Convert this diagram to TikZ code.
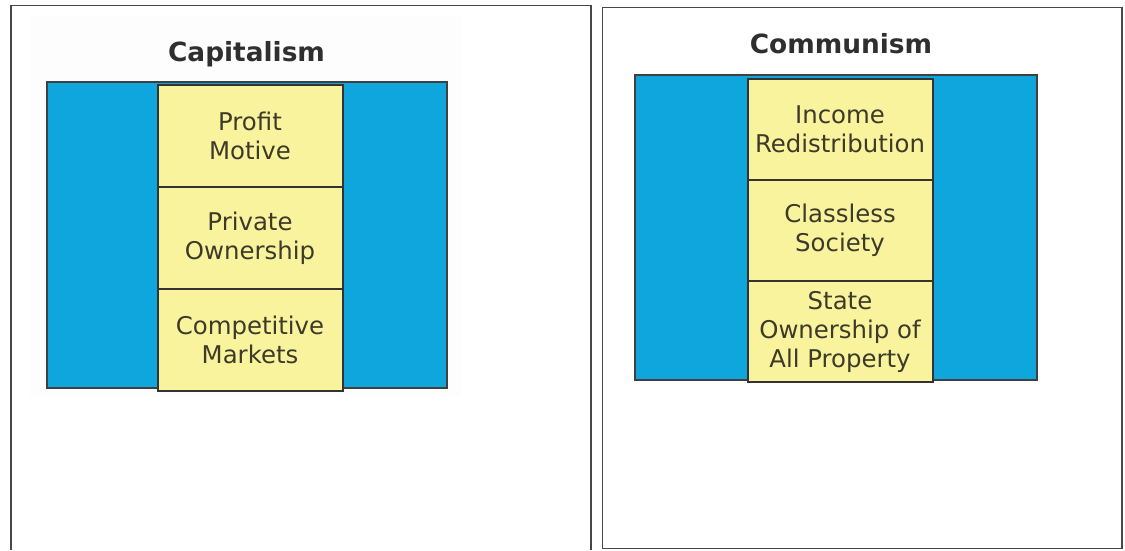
\documentclass[tikz,border=0pt]{standalone}
\usepackage{fontspec}
\setmainfont{DejaVu Sans}
\definecolor{panelblue}{HTML}{0EA6DC}
\definecolor{cellyellow}{HTML}{FAF39D}
\definecolor{celltext}{HTML}{3C3A28}
\definecolor{titlegray}{HTML}{2F2F2F}
\definecolor{framegray}{HTML}{474747}
\usetikzlibrary{positioning}
\tikzset{
    panel/.style={
           rectangle,
           fill=panelblue,
           draw=black!75, line width=2pt,
           inner sep=0pt, outer sep=0pt,
           },
    cell/.style={
           rectangle,
           fill=cellyellow,
           draw=black!80, line width=2pt,
           minimum width=185pt,
           inner sep=0pt, outer sep=0pt,
           text=celltext, align=center,
           font=\fontsize{24.4}{29}\selectfont,
           },
    heading/.style={
           text=titlegray, anchor=base,
           font=\bfseries\fontsize{26.4}{30}\selectfont,
           },
    frame/.style={draw=framegray, line width=1.5pt},
}
\newcommand{\Capitalism}{Capitalism}
\newcommand{\Communism}{Communism}

\begin{document}
\begin{tikzpicture}[x=1pt, y=-1pt]
      \useasboundingbox (0,0) rectangle (1125,550);
      % outer frames
      \draw[frame] (11,550) -- (11,5.7) -- (591,5.7) -- (591,550);
      \draw[frame] (602.7,7.3) rectangle (1122,548.5);
      \fill[gray!1.5] (30,16) rectangle (461,396);
      % capitalism
      \node[heading]                            (CapT) at (246.5, 61)    {\Capitalism};
      \node[panel, minimum width=400pt, minimum height=306.5pt] (CapP) at (246.5, 234.75) {};
      \node[cell, minimum height=102pt]          (CapA) at (250, 136)     {Profit\\Motive};
      \node[cell, minimum height=102pt, below=0pt of CapA] (CapB) {Private\\Ownership};
      \node[cell, minimum height=102pt, below=0pt of CapB] (CapC) {Competitive\\Markets};
      % communism
      \node[heading]                            (ComT) at (841, 53)      {\Communism};
      \node[panel, minimum width=402pt, minimum height=305pt]   (ComP) at (836, 227.5)   {};
      \node[cell, minimum height=101pt]          (ComA) at (840, 129.5)   {Income\\Redistribution};
      \node[cell, minimum height=101pt, below=0pt of ComA] (ComB) {Classless\\Society};
      \node[cell, minimum height=101pt, below=0pt of ComB] (ComC) {State\\Ownership of\\All Property};
\end{tikzpicture}
\end{document}
